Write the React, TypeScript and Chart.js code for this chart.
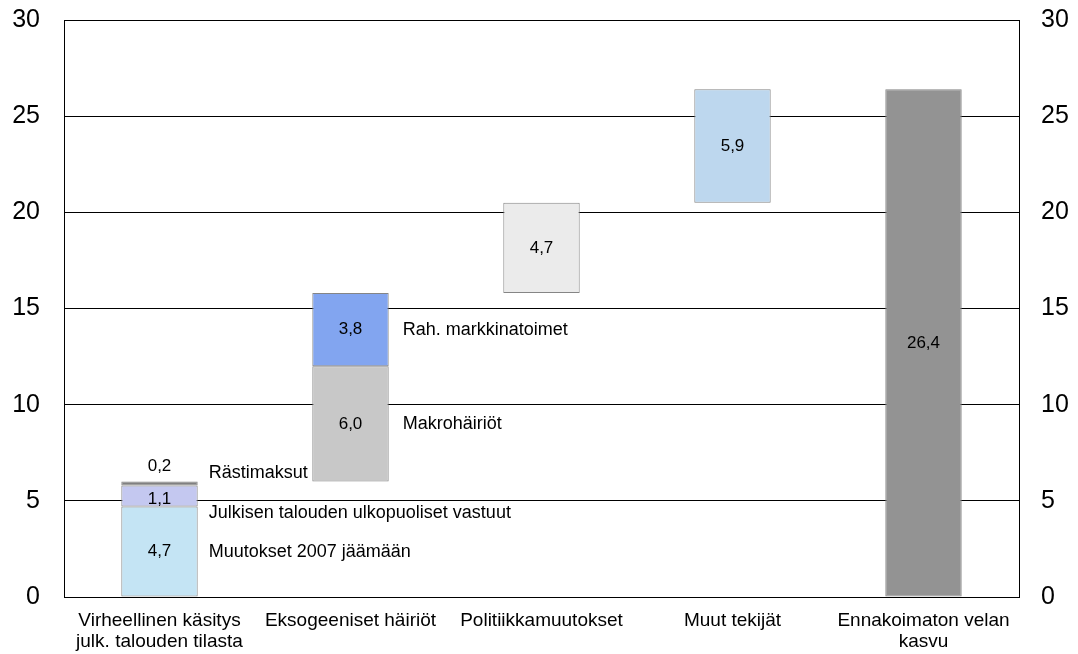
import { useEffect, useRef } from "react";
import { Chart, registerables } from "chart.js";

Chart.register(...registerables);

const categories: (string | string[])[] = [
  ["Virheellinen käsitys", "julk. talouden tilasta"],
  "Eksogeeniset häiriöt",
  "Politiikkamuutokset",
  "Muut tekijät",
  ["Ennakoimaton velan", "kasvu"],
];

// Segment values per category, bottom to top
const segVirheellinen = [4.7, 1.1, 0.2];
const segEksogeeniset = [6.0, 3.8];
const segPolitiikka = [4.7];
const segMuut = [5.9];
const segTotal = [26.4];

const namesVirheellinen = ["Muutokset 2007 jäämään", "Julkisen talouden ulkopuoliset vastuut", "Rästimaksut"];
const namesEksogeeniset = ["Makrohäiriöt", "Rah. markkinatoimet"];

const yMin = 0;
const yMax = 30;
const yStep = 5;

const layerColors = [
  ["#C4E4F4", "#C8C8C8", "#EBEBEB", "#BDD7EE", "#939393"],
  ["#C4C8F0", "#82A5F0", "#ffffff", "#ffffff", "#ffffff"],
  ["#808080", "#ffffff", "#ffffff", "#ffffff", "#ffffff"],
];

const FONT = "'Liberation Sans', Arial, sans-serif";

function fmt(v: number) {
  return v.toFixed(1).replace(".", ",");
}

export default function App() {
  const ref = useRef<HTMLCanvasElement | null>(null);

  useEffect(() => {
    document.body.style.margin = "0";
    const segs = [segVirheellinen, segEksogeeniset, segPolitiikka, segMuut, segTotal];
    const names: (string[] | null)[] = [namesVirheellinen, namesEksogeeniset, null, null, null];
    const starts: number[] = [];
    let run = 0;
    segs.forEach((s, i) => {
      if (i === segs.length - 1) {
        starts.push(0);
      } else {
        starts.push(run);
        run += s.reduce((a, b) => a + b, 0);
      }
    });
    const maxLayers = Math.max(...segs.map((s) => s.length));
    const datasets = [];
    for (let L = 0; L < maxLayers; L++) {
      const data = segs.map((s, i) => {
        if (L >= s.length) return null;
        const b = starts[i] + s.slice(0, L).reduce((a, c) => a + c, 0);
        return [b, b + s[L]];
      });
      datasets.push({
        label: "layer" + L,
        data,
        backgroundColor: layerColors[L],
        borderColor: "#858585",
        borderWidth: 1,
        borderSkipped: false,
        barPercentage: 0.4,
        categoryPercentage: 1,
        yAxisID: "y",
      });
    }

    const labelPlugin = {
      id: "labels",
      afterDatasetsDraw(chart: any) {
        const ctx = chart.ctx;
        ctx.save();
        ctx.fillStyle = "#000";
        ctx.textBaseline = "middle";
        chart.data.datasets.forEach((ds: any, di: number) => {
          const meta = chart.getDatasetMeta(di);
          meta.data.forEach((el: any, i: number) => {
            const raw = ds.data[i];
            if (!raw) return;
            const v = segs[i][di];
            const top = Math.min(el.y, el.base);
            const bot = Math.max(el.y, el.base);
            const h = bot - top;
            ctx.font = "17px " + FONT;
            ctx.textAlign = "center";
            if (h < 10) {
              ctx.fillText(fmt(v), el.x, top - 15);
            } else {
              ctx.fillText(fmt(v), el.x, (top + bot) / 2 + (h < 30 ? 3 : 0));
            }
            const nm = names[i];
            if (nm && nm[di]) {
              ctx.font = "18px " + FONT;
              ctx.textAlign = "left";
              const right = el.x + el.width / 2;
              let ty = (top + bot) / 2;
              let tx = right + 11;
              if (h < 10) ty = top - 9;
              else if (h < 30) ty = bot + 6;
              if (i === 1) tx = right + 14;
              ctx.fillText(nm[di], tx, ty);
            }
          });
        });
        ctx.restore();
      },
    };

    const chart = new Chart(ref.current as HTMLCanvasElement, {
      type: "bar",
      data: { labels: categories as any, datasets: datasets as any },
      options: {
        animation: false,
        responsive: false,
        maintainAspectRatio: false,
        layout: { padding: { top: 20, left: 0, right: 0, bottom: 0 } },
        plugins: { legend: { display: false }, tooltip: { enabled: false } },
        scales: {
          x: {
            stacked: true,
            grid: { display: false, drawTicks: false },
            border: { display: false },
            ticks: {
              color: "#000",
              font: { family: FONT, size: 19, lineHeight: 1.08 },
              padding: 14,
              maxRotation: 0,
              autoSkip: false,
            },
            afterFit(scale: any) {
              scale.height = 57;
            },
          },
          y: {
            position: "left",
            min: yMin,
            max: yMax,
            grid: { color: "#000", lineWidth: 1, drawTicks: false },
            border: { display: true, color: "#000", width: 1 },
            ticks: {
              stepSize: yStep,
              color: "#000",
              padding: 24,
              font: { family: FONT, size: 25 },
            },
            afterFit(scale: any) {
              scale.width = 64;
              scale.paddingTop = 0;
              scale.paddingBottom = 0;
            },
          },
          y2: {
            position: "right",
            display: true,
            min: yMin,
            max: yMax,
            grid: { display: false, drawTicks: false },
            border: { display: true, color: "#000", width: 1 },
            ticks: {
              stepSize: yStep,
              color: "#000",
              padding: 22,
              font: { family: FONT, size: 25 },
            },
            afterFit(scale: any) {
              scale.width = 59;
              scale.paddingTop = 0;
              scale.paddingBottom = 0;
            },
          },
        },
      } as any,
      plugins: [labelPlugin],
    });
    return () => chart.destroy();
  }, []);

  return (
    <div style={{ width: 1078, height: 654 }}>
      <canvas ref={ref} width={1078} height={654} />
    </div>
  );
}
